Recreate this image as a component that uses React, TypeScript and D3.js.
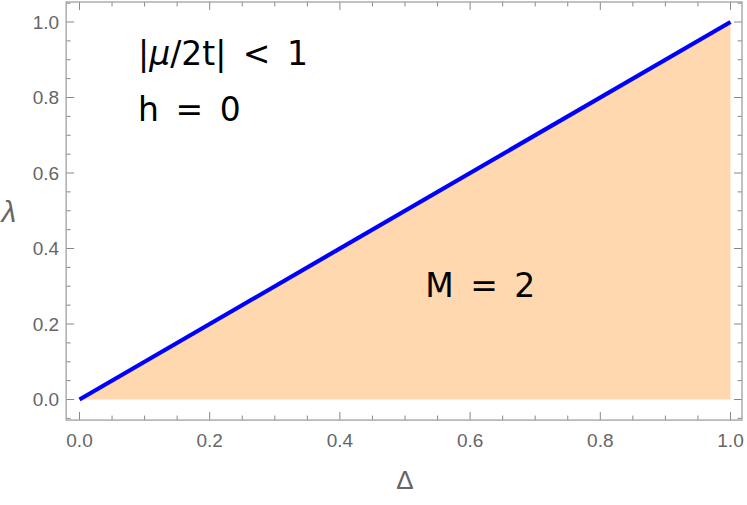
import React from "react";
import * as d3 from "d3";

const lineX = [0, 1];
const lineY = [0, 1];
const xTickLabels = [0, 0.2, 0.4, 0.6, 0.8, 1.0];
const yTickLabels = [0, 0.2, 0.4, 0.6, 0.8, 1.0];
const EN = "\u2002";
const annotations = [
  { parts: [["|", false], ["\u03bc", true], ["/2t|" + EN + "<" + EN + "1", false]], x: 0.09, y: 0.886 },
  { parts: [["h" + EN + "=" + EN + "0", false]], x: 0.09, y: 0.738 },
  { parts: [["M" + EN + "=" + EN + "2", false]], x: 0.531, y: 0.2715 },
];

export default function App() {
  const W = 747, H = 505;
  const x = d3.scaleLinear().domain([0, 1]).range([79.5, 730.5]);
  const y = d3.scaleLinear().domain([0, 1]).range([399.5, 22]);
  const x0 = x(-0.0205), x1 = x(1.0177);
  const y0 = y(-0.0545), y1 = y(1.053);
  const minor = d3.range(-0.05, 1.0501, 0.05).map(v => +v.toFixed(2));
  const isMajor = (v: number) => Math.abs(v * 5 - Math.round(v * 5)) < 1e-6;
  const pts = lineX.map((v, i) => [v, lineY[i]] as [number, number]);
  const line = d3.line<[number, number]>().x(d => x(d[0])).y(d => y(d[1]));
  const area = d3.area<[number, number]>().x(d => x(d[0])).y0(y(0)).y1(d => y(d[1]));
  const frame = "#a0a0a0";
  const tick = "#888";
  const font = "Liberation Sans, Arial, sans-serif";
  const afont = "DejaVu Sans, sans-serif";
  return (
    <svg width={W} height={H} style={{ position: "absolute", left: 0, top: 0 }}>
      <path d={area(pts) as string} fill="#FFD8B0" />
      <path d={line(pts) as string} fill="none" stroke="#0000FF" strokeWidth={4.2} />
      {minor.filter(v => x(v) > x0 && x(v) < x1).map(v => {
        const len = isMajor(v) ? 8 : 4.5;
        return (
          <g key={"x" + v}>
            <line x1={x(v)} x2={x(v)} y1={y0} y2={y0 - len} stroke={tick} strokeWidth={1} />
            <line x1={x(v)} x2={x(v)} y1={y1} y2={y1 + len} stroke={tick} strokeWidth={1} />
          </g>
        );
      })}
      {minor.filter(v => y(v) < y0 && y(v) > y1).map(v => {
        const len = isMajor(v) ? 8 : 4.5;
        return (
          <g key={"y" + v}>
            <line y1={y(v)} y2={y(v)} x1={x0} x2={x0 + len} stroke={tick} strokeWidth={1} />
            <line y1={y(v)} y2={y(v)} x1={x1} x2={x1 - len} stroke={tick} strokeWidth={1} />
          </g>
        );
      })}
      <rect x={x0} y={y1} width={x1 - x0} height={y0 - y1} fill="none" stroke={frame} strokeWidth={1.3} />
      {xTickLabels.map(v => (
        <text key={"xl" + v} x={x(v)} y={y0 + 27} textAnchor="middle" fontFamily={font} fontSize={19} fill="#666">
          {v.toFixed(1)}
        </text>
      ))}
      {yTickLabels.map(v => (
        <text key={"yl" + v} x={x0 - 7} y={y(v) + 6.8} textAnchor="end" fontFamily={font} fontSize={19} fill="#666">
          {v.toFixed(1)}
        </text>
      ))}
      <text x={405} y={489} textAnchor="middle" fontFamily={font} fontSize={26} fill="#666">Δ</text>
      <text x={9} y={222} textAnchor="middle" fontFamily={font} fontSize={30} fontStyle="italic" fill="#666">λ</text>
      {annotations.map((a, i) => (
        <text key={i} x={x(a.x)} y={y(a.y)} fontFamily={afont} fontSize={33} fill="#000" style={{ whiteSpace: "pre" }}>
          {a.parts.map((p, j) => (
            <tspan key={j} fontStyle={p[1] ? "italic" : "normal"}>{p[0] as string}</tspan>
          ))}
        </text>
      ))}
    </svg>
  );
}
